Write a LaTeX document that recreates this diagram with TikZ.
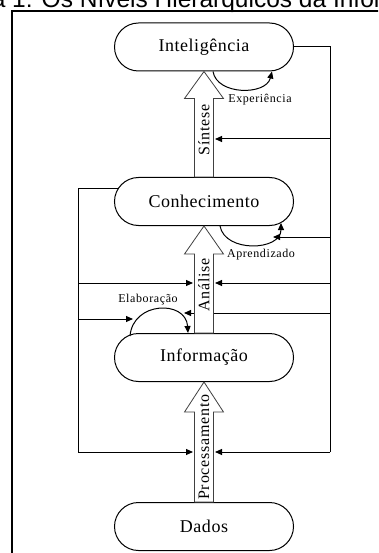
\documentclass[tikz,border=0pt]{standalone}
\usepackage{fontspec}
\setmainfont{Liberation Serif}
\newfontfamily\titlef{Liberation Sans}
\newfontfamily\nodef[LetterSpace=3]{Liberation Serif}
\newfontfamily\lblf[LetterSpace=5]{Liberation Serif}
\usetikzlibrary{shapes.misc,arrows.meta,calc}
\newcommand\blockup[3]{%
  \draw[blockarrow] ([xshift=-9.5pt]#1.north) -- ([xshift=-9.5pt,yshift=-#3]#2.south)
    -- ([xshift=-19.5pt,yshift=-#3]#2.south) -- (#2.south)
    -- ([xshift=19.5pt,yshift=-#3]#2.south) -- ([xshift=9.5pt,yshift=-#3]#2.south)
    -- ([xshift=9.5pt]#1.north) -- cycle;}
\begin{document}
\begin{tikzpicture}[x=1pt,y=-1pt,
  stadium/.style={rounded rectangle, draw, line width=1pt, minimum width=179pt,
    minimum height=48pt, inner sep=0pt, fill=white, font=\nodef\fontsize{18}{20}\selectfont},
  fb/.style={line width=1pt},
  tip/.style={-{Triangle[length=7pt,width=6pt]}},
  blockarrow/.style={draw=black!75, line width=0.8pt, fill=white},
  small/.style={font=\lblf\fontsize{12}{14}\selectfont, inner sep=0pt},
  vlabel/.style={rotate=90, font=\lblf\fontsize{16}{18}\selectfont, inner sep=0pt}]
\clip (0,0) rectangle (378,553);
\fill[white] (0,0) rectangle (378,553);
\node[anchor=base west, font=\titlef\fontsize{24.5}{28}\selectfont, inner sep=0pt] (title) at (12,7.5)
  {\llap{Figura }1: Os Níveis Hierárquicos da Informação};
\draw[line width=1.6pt] (12,11) rectangle (400,580);
% nodes
\node[stadium] (int) at (204,47) {Inteligência};
\node[stadium] (con) at (204,201.5) {Conhecimento};
\node[stadium] (inf) at (204,357.5) {Informação};
\node[stadium] (dad) at (204,526.5) {Dados};
% coordinates
\coordinate (rt) at (330,47);
\coordinate (rb) at (330,452);
\coordinate (cL) at (118,189);
\coordinate (lt) at (78,189);
\coordinate (lb) at (78,452);
\coordinate (sinR) at (215,139);
\coordinate (apr) at (273,237);
\coordinate (anaR) at (215,283);
\coordinate (elaR) at (184,313);
\coordinate (proR) at (215,452);
\coordinate (anaL) at (193,283);
\coordinate (elaL) at (133,319);
\coordinate (proL) at (193,452);
% feedback lines
\draw[fb] (int.east) -- (rt) -- (rb);
\draw[fb,tip] (rt |- sinR) -- (sinR);
\draw[fb,tip] (rt |- apr) -- (apr);
\draw[fb,tip] (rt |- anaR) -- (anaR);
\draw[fb,tip] (rt |- elaR) -- (elaR);
\draw[fb,tip] (rb) -- (proR);
\draw[fb] (cL) -- (lt) -- (lb);
\draw[fb,tip] (lt |- anaL) -- (anaL);
\draw[fb,tip] (lt |- elaL) -- (elaL);
\draw[fb,tip] (lb) -- (proL);
% block arrows
\blockup{con}{int}{27pt}
\blockup{inf}{con}{28pt}
\blockup{dad}{inf}{30pt}
\node[vlabel] (lsin) at (204,130) {Síntese};
\node[vlabel] (lana) at (204,285) {Análise};
\node[vlabel] (lpro) at (204,447) {Processamento};
% loops
\draw[fb,tip] ([xshift=9pt]int.south) .. controls +(4,24) and +(-6,24) .. ([xshift=68pt]int.south);
\draw[fb,tip] ([xshift=16pt]con.south) .. controls +(5,27) and +(0,28) .. ([xshift=77pt,yshift=3pt]con.south);
\draw[fb,tip] ([xshift=-74pt,yshift=-3pt]inf.north) .. controls +(3,-35) and +(-2,-33) .. ([xshift=-16pt]inf.north);
% loop labels
\node[small] (lexp) at (260,100) {Experiência};
\node[small] (lapr) at (261,255) {Aprendizado};
\node[small] (lela) at (148,300) {Elaboração};
\end{tikzpicture}
\end{document}
